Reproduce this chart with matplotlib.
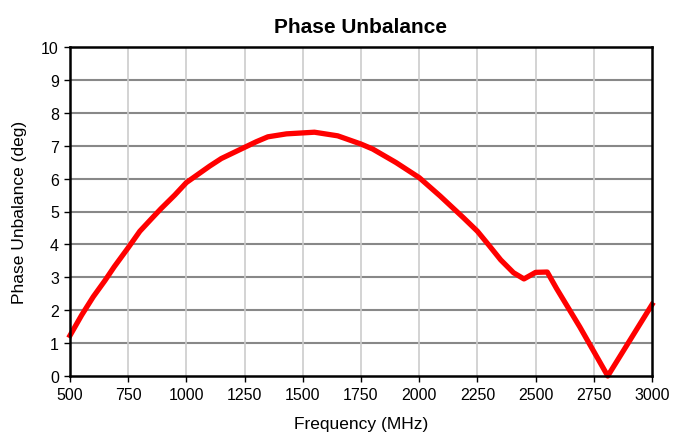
import matplotlib
matplotlib.use("Agg")
import matplotlib.pyplot as plt

plt.rcParams['font.family'] = ['Liberation Sans', 'DejaVu Sans']

# Phase unbalance vs frequency
freq_mhz = [500, 550, 600, 650, 690, 750, 800, 850, 890, 950, 1000, 1050,
            1100, 1150, 1200, 1250, 1300, 1350, 1430, 1550, 1650, 1750,
            1800, 1900, 2000, 2090, 2190, 2250, 2300, 2350, 2405, 2450,
            2500, 2550, 2590, 2690, 2810, 3000]
phase_deg = [1.23, 1.85, 2.41, 2.90, 3.32, 3.90, 4.40, 4.78, 5.08, 5.50, 5.88,
             6.13, 6.38, 6.61, 6.78, 6.95, 7.12, 7.27, 7.36, 7.41, 7.30, 7.05,
             6.90, 6.49, 6.03, 5.47, 4.81, 4.40, 3.97, 3.53, 3.14, 2.95,
             3.15, 3.16, 2.66, 1.49, 0.0, 2.17]

x_ticks = [500, 750, 1000, 1250, 1500, 1750, 2000, 2250, 2500, 2750, 3000]
y_ticks = list(range(0, 11))

fig = plt.figure(figsize=(6.73, 4.35), dpi=100)
ax = fig.add_axes([70 / 673, 1 - 377 / 435, 582 / 673, 329 / 435])

ax.plot(freq_mhz, phase_deg, color='#ff0000', linewidth=3.8,
        zorder=3, clip_on=False)

ax.set_xlim(500, 3000)
ax.set_ylim(0, 10)
ax.set_xticks(x_ticks)
ax.set_yticks(y_ticks)

# horizontal grid darker than vertical
for y in y_ticks[1:-1]:
    ax.axhline(y, color='#888888', linewidth=1.5, zorder=1)
for x in x_ticks[1:-1]:
    ax.axvline(x, color='#cccccc', linewidth=1.2, zorder=1)

for s in ax.spines.values():
    s.set_linewidth(1.8)
    s.set_color('black')
    s.set_zorder(4)

ax.tick_params(direction='out', length=4, width=1, labelsize=11.5,
               colors='black', pad=4)

ax.set_title('Phase Unbalance', fontsize=15, fontweight='bold', pad=11)
ax.set_xlabel('Frequency (MHz)', fontsize=12.5, labelpad=10)
ax.set_ylabel('Phase Unbalance (deg)', fontsize=12.5, labelpad=10)

fig.savefig('out.png', dpi=100)
